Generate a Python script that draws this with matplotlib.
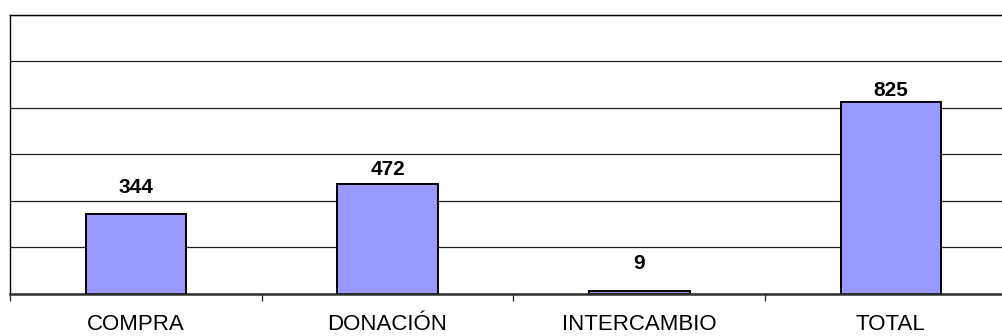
import matplotlib
matplotlib.use("Agg")
import matplotlib.pyplot as plt
import numpy as np

categories = ["COMPRA", "DONACIÓN", "INTERCAMBIO", "TOTAL"]
values = [344, 472, 9, 825]

# label offsets above bars (pixels), as in the reference layout
label_offsets_px = [17, 5, 18, 2]

plt.rcParams['font.family'] = ['Liberation Sans', 'DejaVu Sans']

W, H, DPI = 1002, 336, 100
fig = plt.figure(figsize=(W / DPI, H / DPI), dpi=DPI)
left, right, top, bottom = 10, 1016.7, 15, 293.5
ax = fig.add_axes([left / W, (H - bottom) / H, (right - left) / W, (bottom - top) / H])

x = np.arange(len(categories))
bars = ax.bar(x, values, width=0.4, color="#9999FF", edgecolor="black", linewidth=1.4, zorder=3)

ax.set_xlim(-0.5, len(categories) - 0.5)
ax.set_ylim(0, 1200)
ax.set_yticks(np.arange(0, 1201, 200))
ax.yaxis.grid(True, color="#202020", linewidth=0.9, zorder=0)
ax.tick_params(axis="y", length=0, labelleft=False)

ax.set_xticks(x)
ax.set_xticklabels(categories, fontsize=16)
ax.set_xticks(np.arange(-0.5, len(categories), 1.0), minor=True)
ax.tick_params(axis="x", which="major", length=0, pad=15)
ax.tick_params(axis="x", which="minor", length=5, width=0.9, color="#202020", direction="out")

ax.spines["right"].set_visible(False)
ax.spines["top"].set_linewidth(1.0)
ax.spines["left"].set_linewidth(1.0)
ax.spines["bottom"].set_linewidth(1.8)
ax.spines["bottom"].set_color("#303030")
ax.spines["bottom"].set_zorder(4)

for xi, v, off in zip(x, values, label_offsets_px):
    ax.annotate(f"{v}", xy=(xi, v), xytext=(0, off * 72 / DPI), textcoords="offset points",
                ha="center", va="bottom", fontsize=15, fontweight="bold", zorder=5)

fig.savefig("out.png", dpi=DPI)
